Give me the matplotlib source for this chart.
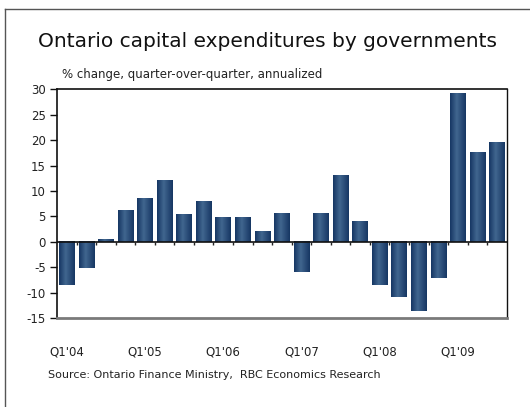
import numpy as np
import matplotlib
matplotlib.use("Agg")
import matplotlib.pyplot as plt
from matplotlib.colors import LinearSegmentedColormap
from matplotlib.lines import Line2D

# quarterly % change, annualized, Q1'04 .. Q3'09
quarters = ["Q1'04", "Q2'04", "Q3'04", "Q4'04",
            "Q1'05", "Q2'05", "Q3'05", "Q4'05",
            "Q1'06", "Q2'06", "Q3'06", "Q4'06",
            "Q1'07", "Q2'07", "Q3'07", "Q4'07",
            "Q1'08", "Q2'08", "Q3'08", "Q4'08",
            "Q1'09", "Q2'09", "Q3'09"]
values = [-8.5, -5.2, 0.4, 6.1,
          8.5, 12.1, 5.4, 7.9,
          4.8, 4.8, 2.0, 5.6,
          -6.0, 5.6, 13.1, 4.0,
          -8.5, -10.9, -13.6, -7.2,
          29.2, 17.6, 19.6]
yticks = [-15, -10, -5, 0, 5, 10, 15, 20, 25, 30]

x = np.arange(len(values))
bar_w = 0.79

fig = plt.figure(figsize=(5.30, 4.07), dpi=100)
ax = fig.add_axes([0.1075, 0.2187, 0.8486, 0.5619])

# navy bars with a horizontal shine: dark edges, lighter band left of centre
shine = LinearSegmentedColormap.from_list(
    "shine", [(0.0, "#163663"), (0.42, "#41668f"), (1.0, "#163663")])
grad = np.linspace(0, 1, 64).reshape(1, -1)
bars = ax.bar(x, values, width=bar_w, color="#2c4f7c", zorder=2)
for b in bars:
    x0, y0 = b.get_x(), b.get_y()
    w, h = b.get_width(), b.get_height()
    ax.imshow(grad, cmap=shine, aspect="auto", zorder=3,
              extent=(x0, x0 + w, min(y0, y0 + h), max(y0, y0 + h)),
              interpolation="bilinear")

ax.set_xlim(-0.5, len(values) - 0.5)
ax.set_ylim(-15, 30)

# zero line with small ticks between the bars
ax.axhline(0, color="#111111", lw=1.2, zorder=4)
for xb in x[1:] - 0.5:
    ax.plot([xb, xb], [0, -0.65], color="#222222", lw=1.0, zorder=4,
            solid_capstyle="butt")

ax.set_yticks(yticks)
ax.set_yticklabels([str(t) for t in yticks], fontsize=8.5, color="#222222")
ax.tick_params(axis="y", direction="out", length=5, width=1, pad=3,
               color="#111111")

ax.set_xticks(x[::4])
ax.set_xticklabels(quarters[::4], fontsize=8.5, color="#222222")
ax.tick_params(axis="x", length=0, pad=20)

for side in ["left", "top", "right"]:
    ax.spines[side].set_color("#111111")
    ax.spines[side].set_linewidth(1.2)
ax.spines["right"].set_linewidth(1.0)
ax.spines["bottom"].set_color("#7a7a7a")
ax.spines["bottom"].set_linewidth(2.0)

fig.text(0.504, 0.899, "Ontario capital expenditures by governments",
         ha="center", va="center", fontsize=14.5, color="#111111")
fig.text(0.117, 0.818, "% change, quarter-over-quarter, annualized",
         ha="left", va="center", fontsize=8.5, color="#222222")
fig.text(0.091, 0.079, "Source: Ontario Finance Ministry,  RBC Economics Research",
         ha="left", va="center", fontsize=8, color="#222222")

# outer frame: only the top and left edges fall inside the image
fig.add_artist(Line2D([5 / 530, 5 / 530], [0, 1 - 9 / 407],
                      transform=fig.transFigure, color="#555555", lw=1.0))
fig.add_artist(Line2D([5 / 530, 1], [1 - 9 / 407, 1 - 9 / 407],
                      transform=fig.transFigure, color="#555555", lw=1.0))

fig.savefig("out.png", dpi=100)
